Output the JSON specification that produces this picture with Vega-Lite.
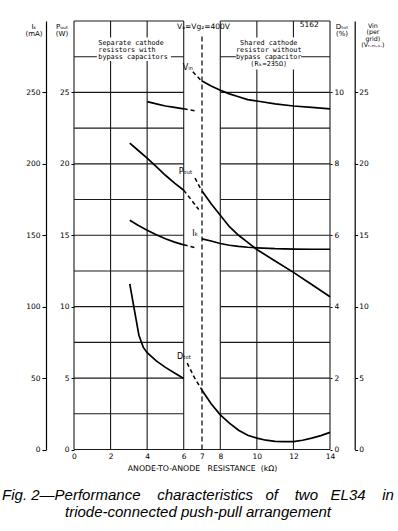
{
  "$schema": "https://vega.github.io/schema/vega-lite/v6.json",
  "width": 256,
  "height": 428.5,
  "autosize": {"type": "none"},
  "padding": {"left": 74, "top": 21, "right": 68, "bottom": 81.5},
  "background": "white",
  "title": {
    "text": ["Fig. 2—Performance \u00a0\u00a0\u00a0characteristics \u00a0\u00a0of \u00a0\u00a0\u00a0two \u00a0\u00a0EL34 \u00a0\u00a0\u00a0in", "triode-connected push-pull arrangement"],
    "orient": "bottom",
    "anchor": "middle",
    "font": "Liberation Sans",
    "fontStyle": "italic",
    "fontWeight": "normal",
    "fontSize": 15,
    "lineHeight": 17,
    "color": "black",
    "offset": 16,
    "dx": -4
  },
  "config": {
    "view": {"stroke": null},
    "axis": {
      "grid": false,
      "labelFont": "DejaVu Sans",
      "labelFontSize": 7.5,
      "labelColor": "black",
      "labelOverlap": false,
      "labelFlush": false,
      "titleFont": "DejaVu Sans",
      "titleFontSize": 7,
      "titleFontWeight": "normal",
      "titleColor": "black",
      "tickColor": "black",
      "domainColor": "black"
    }
  },
  "datasets": {
    "grid": [
      {"x": 0, "x2": 14, "y": 0, "y2": 0},
      {"x": 0, "x2": 6, "y": 2.5, "y2": 2.5}, {"x": 8, "x2": 14, "y": 2.5, "y2": 2.5},
      {"x": 0, "x2": 6, "y": 5, "y2": 5}, {"x": 8, "x2": 14, "y": 5, "y2": 5},
      {"x": 0, "x2": 6, "y": 7.5, "y2": 7.5}, {"x": 8, "x2": 14, "y": 7.5, "y2": 7.5},
      {"x": 0, "x2": 6, "y": 10, "y2": 10}, {"x": 8, "x2": 14, "y": 10, "y2": 10},
      {"x": 0, "x2": 6, "y": 12.5, "y2": 12.5}, {"x": 8, "x2": 14, "y": 12.5, "y2": 12.5},
      {"x": 0, "x2": 6, "y": 15, "y2": 15}, {"x": 8, "x2": 14, "y": 15, "y2": 15},
      {"x": 0, "x2": 6, "y": 17.5, "y2": 17.5}, {"x": 8, "x2": 14, "y": 17.5, "y2": 17.5},
      {"x": 0, "x2": 6, "y": 20, "y2": 20}, {"x": 8, "x2": 14, "y": 20, "y2": 20},
      {"x": 0, "x2": 6, "y": 22.5, "y2": 22.5}, {"x": 8, "x2": 14, "y": 22.5, "y2": 22.5},
      {"x": 0, "x2": 6, "y": 25, "y2": 25}, {"x": 8, "x2": 14, "y": 25, "y2": 25},
      {"x": 0, "x2": 6, "y": 27.5, "y2": 27.5}, {"x": 8, "x2": 14, "y": 27.5, "y2": 27.5},
      {"x": 0, "x2": 6, "y": 30, "y2": 30}, {"x": 8, "x2": 14, "y": 30, "y2": 30},
      {"x": 0, "x2": 0, "y": 0, "y2": 30},
      {"x": 2, "x2": 2, "y": 0, "y2": 30},
      {"x": 4, "x2": 4, "y": 0, "y2": 30},
      {"x": 6, "x2": 6, "y": 0, "y2": 30},
      {"x": 8, "x2": 8, "y": 0, "y2": 30},
      {"x": 10, "x2": 10, "y": 0, "y2": 30},
      {"x": 12, "x2": 12, "y": 0, "y2": 30},
      {"x": 14, "x2": 14, "y": 0, "y2": 30}
    ],
    "boxes": [
      {"x": 1.25, "x2": 5.3, "y": 27.2, "y2": 28.85},
      {"x": 8.85, "x2": 12.42, "y": 26.6, "y2": 28.85}
    ],
    "divider": [{"x": 7, "y": 0, "y2": 29.1}],
    "notes": [
      {"kind": "boxleft", "x": 1.33, "y": 28.65, "label": "Separate cathode|resistors with|bypass capacitors"},
      {"kind": "boxcenter", "x": 10.65, "y": 28.65, "label": "Shared cathode|resistor without|bypass capacitor|(Rₖ=235Ω)"},
      {"kind": "curve", "x": 6.23, "y": 26.7, "label": "Vᵢₙ"},
      {"kind": "curve", "x": 6.1, "y": 19.4, "label": "Pₒᵤₜ"},
      {"kind": "curve", "x": 6.63, "y": 15.06, "label": "Iₖ"},
      {"kind": "curve", "x": 6.02, "y": 6.48, "label": "Dₜₒₜ"},
      {"kind": "top", "x": 7.08, "y": 29.55, "label": "Vₐ=Vg₂=400V"},
      {"kind": "top", "x": 12.87, "y": 29.7, "label": "5162"}
    ],
    "pout": [
      {"part": "left", "x": 3.05, "value": 21.45}, {"part": "left", "x": 3.5, "value": 20.95},
      {"part": "left", "x": 4, "value": 20.4}, {"part": "left", "x": 4.5, "value": 19.8},
      {"part": "left", "x": 5, "value": 19.2}, {"part": "left", "x": 5.5, "value": 18.65},
      {"part": "left", "x": 6, "value": 18.15},
      {"part": "left-ext", "x": 6, "value": 18.15}, {"part": "left-ext", "x": 6.4, "value": 17.5},
      {"part": "left-ext", "x": 6.82, "value": 16.8},
      {"part": "right-ext", "x": 6.62, "value": 19.0}, {"part": "right-ext", "x": 6.97, "value": 18.15},
      {"part": "right", "x": 7, "value": 18.1}, {"part": "right", "x": 7.5, "value": 17.2},
      {"part": "right", "x": 8, "value": 16.4}, {"part": "right", "x": 8.5, "value": 15.6},
      {"part": "right", "x": 9, "value": 15.0}, {"part": "right", "x": 9.5, "value": 14.5},
      {"part": "right", "x": 10, "value": 14.0}, {"part": "right", "x": 11, "value": 13.2},
      {"part": "right", "x": 12, "value": 12.4}, {"part": "right", "x": 13, "value": 11.55},
      {"part": "right", "x": 14, "value": 10.7}
    ],
    "ik": [
      {"part": "left", "x": 3.05, "value": 160.5}, {"part": "left", "x": 3.5, "value": 157},
      {"part": "left", "x": 4, "value": 153.5}, {"part": "left", "x": 4.5, "value": 150.3},
      {"part": "left", "x": 5, "value": 147.5}, {"part": "left", "x": 5.5, "value": 145.2},
      {"part": "left", "x": 6, "value": 143.3},
      {"part": "left-ext", "x": 6, "value": 143.3}, {"part": "left-ext", "x": 6.7, "value": 141},
      {"part": "right", "x": 7, "value": 147.5}, {"part": "right", "x": 7.5, "value": 146},
      {"part": "right", "x": 8, "value": 144.2}, {"part": "right", "x": 8.5, "value": 143},
      {"part": "right", "x": 9, "value": 142.2}, {"part": "right", "x": 9.5, "value": 141.6},
      {"part": "right", "x": 10, "value": 141.2}, {"part": "right", "x": 11, "value": 140.6},
      {"part": "right", "x": 12, "value": 140.3}, {"part": "right", "x": 13, "value": 140.2},
      {"part": "right", "x": 14, "value": 140.2}
    ],
    "dtot": [
      {"part": "left", "x": 3.05, "value": 4.64}, {"part": "left", "x": 3.27, "value": 4.0},
      {"part": "left", "x": 3.55, "value": 3.2}, {"part": "left", "x": 3.79, "value": 2.86},
      {"part": "left", "x": 4, "value": 2.71}, {"part": "left", "x": 4.5, "value": 2.48},
      {"part": "left", "x": 5, "value": 2.3}, {"part": "left", "x": 5.5, "value": 2.14},
      {"part": "left", "x": 6, "value": 1.99},
      {"part": "right-ext", "x": 6.19, "value": 2.42}, {"part": "right-ext", "x": 6.6, "value": 2.0},
      {"part": "right-ext", "x": 7, "value": 1.66},
      {"part": "right", "x": 7, "value": 1.66}, {"part": "right", "x": 7.5, "value": 1.28},
      {"part": "right", "x": 8, "value": 0.97}, {"part": "right", "x": 8.5, "value": 0.74},
      {"part": "right", "x": 9, "value": 0.54}, {"part": "right", "x": 9.5, "value": 0.4},
      {"part": "right", "x": 10, "value": 0.32}, {"part": "right", "x": 10.5, "value": 0.26},
      {"part": "right", "x": 11, "value": 0.23}, {"part": "right", "x": 11.5, "value": 0.22},
      {"part": "right", "x": 12, "value": 0.22}, {"part": "right", "x": 12.5, "value": 0.26},
      {"part": "right", "x": 13, "value": 0.32}, {"part": "right", "x": 13.5, "value": 0.39},
      {"part": "right", "x": 14, "value": 0.48}
    ],
    "vin": [
      {"part": "left", "x": 4, "value": 24.35}, {"part": "left", "x": 4.5, "value": 24.2},
      {"part": "left", "x": 5, "value": 24.05}, {"part": "left", "x": 5.5, "value": 23.95},
      {"part": "left", "x": 6, "value": 23.85},
      {"part": "left-ext", "x": 6, "value": 23.85}, {"part": "left-ext", "x": 6.65, "value": 23.7},
      {"part": "right-ext", "x": 6.5, "value": 26.45}, {"part": "right-ext", "x": 6.97, "value": 25.8},
      {"part": "right", "x": 7, "value": 25.8}, {"part": "right", "x": 7.5, "value": 25.45},
      {"part": "right", "x": 8, "value": 25.15}, {"part": "right", "x": 8.5, "value": 24.9},
      {"part": "right", "x": 9, "value": 24.7}, {"part": "right", "x": 9.5, "value": 24.5},
      {"part": "right", "x": 10, "value": 24.4}, {"part": "right", "x": 11, "value": 24.2},
      {"part": "right", "x": 12, "value": 24.05}, {"part": "right", "x": 13, "value": 23.95},
      {"part": "right", "x": 14, "value": 23.85}
    ]
  },
  "encoding": {
    "x": {"field": "x", "type": "quantitative", "scale": {"domain": [0, 14], "nice": false},
      "axis": {"values": [0, 2, 4, 6, 7, 8, 10, 12, 14], "labelOverlap": false, "labelSeparation": 0, "domain": false, "ticks": false, "labelPadding": 3, "labelFontSize": 7.5,
        "title": "ANODE-TO-ANODE \u00a0\u00a0RESISTANCE \u00a0(kΩ)", "titleFontSize": 7.8, "titlePadding": 4}}
  },
  "layer": [
    {
      "layer": [
        {
          "data": {"name": "grid"},
          "mark": {"type": "rule", "stroke": "#1a1a1a", "strokeWidth": 1.1},
          "encoding": {
            "x2": {"field": "x2"},
            "y": {"field": "y", "type": "quantitative", "scale": {"domain": [0, 30], "nice": false},
              "axis": {"orient": "left", "offset": 0, "values": [0, 5, 10, 15, 20, 25], "domain": false, "tickSize": 3, "labelPadding": 2,
                "title": ["Pₒᵤₜ", "(W)"], "titleAngle": 0, "titleX": -12.5, "titleY": 1, "titleBaseline": "top", "titleAlign": "center", "titleLineHeight": 7}},
            "y2": {"field": "y2"}
          }
        },
        {
          "data": {"name": "boxes"},
          "mark": {"type": "rect", "fill": "white"},
          "encoding": {
            "x2": {"field": "x2"},
            "y": {"field": "y", "type": "quantitative"},
            "y2": {"field": "y2"}
          }
        },
        {
          "data": {"name": "divider"},
          "mark": {"type": "rule", "stroke": "black", "strokeWidth": 1.2, "strokeDash": [5, 3]},
          "encoding": {
            "y": {"field": "y", "type": "quantitative"},
            "y2": {"field": "y2"}
          }
        },
        {
          "data": {"name": "notes"},
          "transform": [{"filter": "datum.kind === 'boxleft'"}],
          "mark": {"type": "text", "align": "left", "baseline": "top", "font": "DejaVu Sans Mono", "fontSize": 6.8, "lineHeight": 6.8, "lineBreak": "|", "color": "black"},
          "encoding": {
            "y": {"field": "y", "type": "quantitative"},
            "text": {"field": "label"}
          }
        },
        {
          "data": {"name": "notes"},
          "transform": [{"filter": "datum.kind === 'boxcenter'"}],
          "mark": {"type": "text", "align": "center", "baseline": "top", "font": "DejaVu Sans Mono", "fontSize": 6.8, "lineHeight": 6.8, "lineBreak": "|", "color": "black"},
          "encoding": {
            "y": {"field": "y", "type": "quantitative"},
            "text": {"field": "label"}
          }
        },
        {
          "data": {"name": "notes"},
          "transform": [{"filter": "datum.kind === 'curve'"}],
          "mark": {"type": "text", "align": "center", "baseline": "middle", "font": "DejaVu Sans", "fontSize": 8, "color": "black"},
          "encoding": {
            "y": {"field": "y", "type": "quantitative"},
            "text": {"field": "label"}
          }
        },
        {
          "data": {"name": "notes"},
          "transform": [{"filter": "datum.kind === 'top'"}],
          "mark": {"type": "text", "align": "center", "baseline": "middle", "font": "DejaVu Sans", "fontSize": 7.5, "color": "black"},
          "encoding": {
            "y": {"field": "y", "type": "quantitative"},
            "text": {"field": "label"}
          }
        },
        {
          "data": {"name": "pout"},
          "transform": [{"filter": "indexof(datum.part, 'ext') < 0"}],
          "mark": {"type": "line", "stroke": "black", "strokeWidth": 1.7},
          "encoding": {
            "y": {"field": "value", "type": "quantitative"},
            "detail": {"field": "part"}
          }
        },
        {
          "data": {"name": "pout"},
          "transform": [{"filter": "indexof(datum.part, 'ext') >= 0"}],
          "mark": {"type": "line", "stroke": "black", "strokeWidth": 1.5, "strokeDash": [4, 3]},
          "encoding": {
            "y": {"field": "value", "type": "quantitative"},
            "detail": {"field": "part"}
          }
        }
      ]
    },
    {
      "data": {"name": "ik"},
      "layer": [
        {
          "transform": [{"filter": "indexof(datum.part, 'ext') < 0"}],
          "mark": {"type": "line", "stroke": "black", "strokeWidth": 1.7},
          "encoding": {
            "y": {"field": "value", "type": "quantitative", "scale": {"domain": [0, 300], "nice": false},
              "axis": {"orient": "left", "offset": 28, "values": [0, 50, 100, 150, 200, 250], "domain": true, "domainWidth": 1.2, "tickSize": 4, "labelPadding": 2,
                "title": ["Iₖ", "(mA)"], "titleAngle": 0, "titleX": -12.5, "titleY": 1, "titleBaseline": "top", "titleAlign": "center", "titleLineHeight": 7}},
            "detail": {"field": "part"}
          }
        },
        {
          "transform": [{"filter": "indexof(datum.part, 'ext') >= 0"}],
          "mark": {"type": "line", "stroke": "black", "strokeWidth": 1.5, "strokeDash": [4, 3]},
          "encoding": {
            "y": {"field": "value", "type": "quantitative"},
            "detail": {"field": "part"}
          }
        }
      ]
    },
    {
      "data": {"name": "dtot"},
      "layer": [
        {
          "transform": [{"filter": "indexof(datum.part, 'ext') < 0"}],
          "mark": {"type": "line", "stroke": "black", "strokeWidth": 1.7},
          "encoding": {
            "y": {"field": "value", "type": "quantitative", "scale": {"domain": [0, 12], "nice": false},
              "axis": {"orient": "right", "offset": 0, "values": [0, 2, 4, 6, 8, 10], "domain": false, "tickSize": 2, "labelPadding": 2,
                "title": ["Dₜₒₜ", "(%)"], "titleAngle": 0, "titleX": 11.5, "titleY": 1, "titleBaseline": "top", "titleAlign": "center", "titleLineHeight": 7}},
            "detail": {"field": "part"}
          }
        },
        {
          "transform": [{"filter": "indexof(datum.part, 'ext') >= 0"}],
          "mark": {"type": "line", "stroke": "black", "strokeWidth": 1.5, "strokeDash": [4, 3]},
          "encoding": {
            "y": {"field": "value", "type": "quantitative"},
            "detail": {"field": "part"}
          }
        }
      ]
    },
    {
      "data": {"name": "vin"},
      "layer": [
        {
          "transform": [{"filter": "indexof(datum.part, 'ext') < 0"}],
          "mark": {"type": "line", "stroke": "black", "strokeWidth": 1.7},
          "encoding": {
            "y": {"field": "value", "type": "quantitative", "scale": {"domain": [0, 30], "nice": false},
              "axis": {"orient": "right", "offset": 24.7, "values": [0, 5, 10, 15, 20, 25], "domain": true, "domainWidth": 1.2, "tickSize": 3, "labelPadding": 1,
                "title": ["Vin", "(per", "grid)", "(Vᵣ.ₘ.ₛ.)"], "titleFontSize": 6.3, "titleAngle": 0, "titleX": 17.7, "titleY": 1, "titleBaseline": "top", "titleAlign": "center", "titleLineHeight": 6.5}},
            "detail": {"field": "part"}
          }
        },
        {
          "transform": [{"filter": "indexof(datum.part, 'ext') >= 0"}],
          "mark": {"type": "line", "stroke": "black", "strokeWidth": 1.5, "strokeDash": [4, 3]},
          "encoding": {
            "y": {"field": "value", "type": "quantitative"},
            "detail": {"field": "part"}
          }
        }
      ]
    }
  ],
  "resolve": {"scale": {"y": "independent"}, "axis": {"y": "independent"}}
}
